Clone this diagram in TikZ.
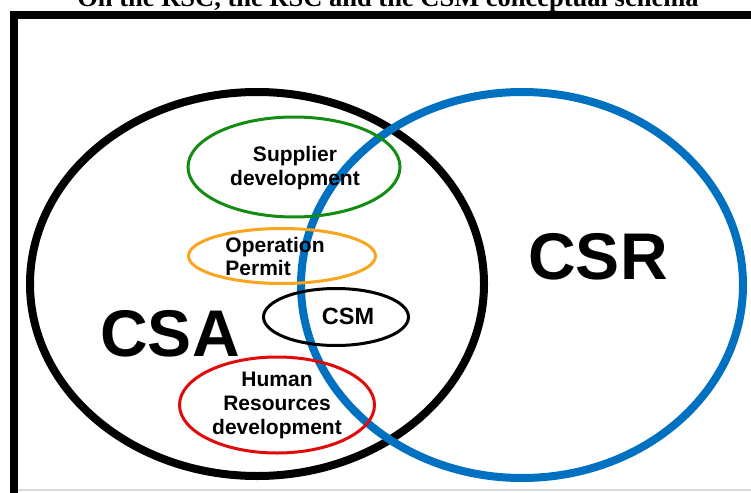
\documentclass[tikz,border=0pt]{standalone}
\usepackage{fontspec}
\setmainfont{Liberation Serif}
\newfontfamily\labelfont{Liberation Sans}
\usetikzlibrary{shapes.geometric}

\definecolor{csrblue}{RGB}{0,112,192}
\definecolor{supgreen}{RGB}{20,140,20}
\definecolor{permorange}{RGB}{250,165,30}
\definecolor{hrred}{RGB}{225,10,10}

\tikzset{
    setring/.style={ellipse, draw, line width=8pt, inner sep=0pt},
    topic/.style={ellipse, draw, line width=3pt, inner sep=0pt},
    topictext/.style={font=\labelfont\bfseries\fontsize{21}{24}\selectfont, align=center, inner sep=0pt},
    bigtext/.style={font=\labelfont\bfseries\fontsize{66}{70}\selectfont, inner sep=0pt}
}

\begin{document}
\begin{tikzpicture}[x=1pt, y=-1pt]
    \useasboundingbox (0,0) rectangle (751,492);
    % title, cut off by the page edge
    \node[anchor=base, font=\bfseries\fontsize{26.5}{28}\selectfont, inner sep=0pt] (title) at (388,7)
        {On the RSC, the RSC and the CSM conceptual schema};
    % frame
    \draw[line width=8pt] (14,500) -- (14,15) -- (760,15);
    \draw[line width=1.5pt, black!15] (18,490) -- (760,490);
    % the two sets
    \node[setring, minimum width=454pt, minimum height=384pt] (csa) at (257,284) {};
    \node[setring, draw=csrblue, minimum width=442pt, minimum height=386pt] (csr) at (522,285) {};
    % topics
    \node[topic, draw=supgreen, minimum width=212pt, minimum height=100pt] (supplier) at (294,167) {};
    \node[topic, draw=permorange, minimum width=187pt, minimum height=55pt] (permit) at (282,256) {};
    \node[topic, minimum width=145pt, minimum height=57pt] (csm) at (336,317) {};
    \node[topic, draw=hrred, minimum width=195pt, minimum height=96pt] (hr) at (277,405) {};
    % texts
    \node[topictext] (supplierlbl) at (295,168) {Supplier\\development};
    \node[topictext, align=left, font=\labelfont\bfseries\fontsize{21}{23}\selectfont] (permitlbl) at (275,256) {Operation\\Permit};
    \node[topictext, font=\labelfont\bfseries\fontsize{23.5}{26}\selectfont] (csmlbl) at (348,316) {CSM};
    \node[topictext] (hrlbl) at (277,405) {Human\\Resources\\development};
    \node[bigtext] (csalbl) at (170,334) {CSA};
    \node[bigtext] (csrlbl) at (598,257) {CSR};
\end{tikzpicture}
\end{document}
